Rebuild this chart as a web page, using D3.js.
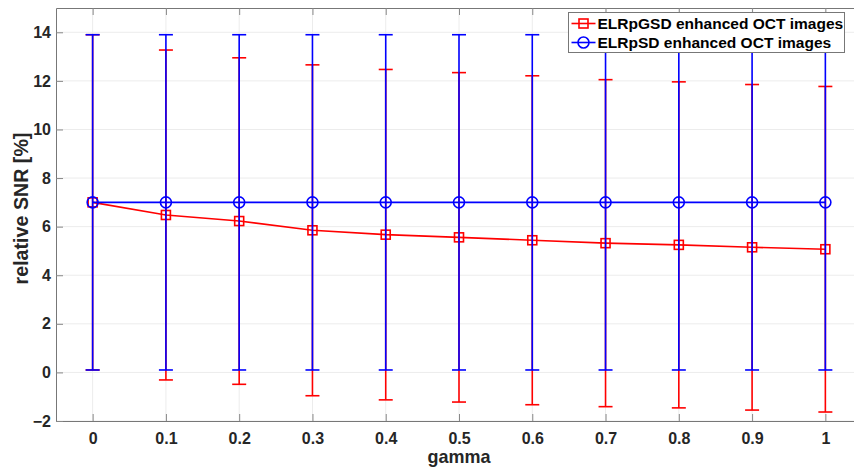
<!DOCTYPE html>
<html>
<head>
<meta charset="utf-8">
<script src="https://cdn.jsdelivr.net/npm/d3@7"></script>
<style>
  body { margin: 0; background: #fff; }
  svg { display: block; font-family: "Liberation Sans", Arial, sans-serif; }
  .tick text { font-size: 16px; font-weight: bold; fill: #262626; }
  .axisLabel { font-size: 17.5px; font-weight: bold; fill: #262626; }
  .legendText { font-size: 15.5px; font-weight: bold; fill: #000; }
</style>
</head>
<body>
<div id="chart"></div>
<script>

// DATA

const gamma = [0, 0.1, 0.2, 0.3, 0.4, 0.5, 0.6, 0.7, 0.8, 0.9, 1];

const gsdMean = [7.0, 6.48, 6.23, 5.85, 5.67, 5.56, 5.44, 5.32, 5.25, 5.15, 5.07];
const gsdErr  = [6.9, 6.79, 6.72, 6.81, 6.80, 6.78, 6.77, 6.73, 6.71, 6.70, 6.70];

const sdMean = [7, 7, 7, 7, 7, 7, 7, 7, 7, 7, 7];
const sdErr  = [6.9, 6.9, 6.9, 6.9, 6.9, 6.9, 6.9, 6.9, 6.9, 6.9, 6.9];

const xTicks = [0, 0.1, 0.2, 0.3, 0.4, 0.5, 0.6, 0.7, 0.8, 0.9, 1];
const yTicks = [-2, 0, 2, 4, 6, 8, 10, 12, 14];

const seriesNames = ["ELRpGSD enhanced OCT images", "ELRpSD enhanced OCT images"];

// MAKE SVG CANVAS

const width = 854;
const height = 474;
const margin = {top: 8, left: 56, right: -8, bottom: 53};
const svg = d3.select("#chart")
    .append("svg")
    .attr("width", width)
    .attr("height", height);

// scale a text's font so it spans the width seen in the reference
function fitWidth(sel, target) {
    const node = sel.node();
    const fs = parseFloat(getComputedStyle(node).fontSize);
    const len = node.getComputedTextLength();
    if (len > 0) sel.style("font-size", (fs * target / len) + "px");
}

// SCALES

const xScale = d3.scaleLinear()
    .domain([-0.05, 1.05])
    .range([margin.left, width - margin.right]);

const yScale = d3.scaleLinear()
    .domain([-2, 15])
    .range([height - margin.bottom, margin.top]);

const plotLeft = margin.left, plotRight = width - margin.right;
const plotTop = margin.top, plotBottom = height - margin.bottom;

// GRID

svg.append("g")
    .selectAll("line")
    .data(xTicks)
    .enter()
    .append("line")
        .attr("x1", d => xScale(d))
        .attr("x2", d => xScale(d))
        .attr("y1", plotTop)
        .attr("y2", plotBottom)
        .attr("stroke", "#ececec")
        .attr("stroke-width", 1);

svg.append("g")
    .selectAll("line")
    .data(yTicks)
    .enter()
    .append("line")
        .attr("x1", plotLeft)
        .attr("x2", plotRight)
        .attr("y1", d => yScale(d))
        .attr("y2", d => yScale(d))
        .attr("stroke", "#ececec")
        .attr("stroke-width", 1);

// AXIS

const xAxis = svg.append("g")
    .attr("class", "axis")
    .attr("transform", `translate(0, ${plotBottom})`)
    .call(d3.axisBottom(xScale).tickValues(xTicks).tickSizeInner(-7).tickSizeOuter(0).tickPadding(12)
        .tickFormat(d3.format("")));

const xAxisTop = svg.append("g")
    .attr("transform", `translate(0, ${plotTop})`)
    .call(d3.axisTop(xScale).tickValues(xTicks).tickSizeInner(-7).tickSizeOuter(0).tickFormat(""));

const yAxis = svg.append("g")
    .attr("class", "axis")
    .attr("transform", `translate(${plotLeft}, 0)`)
    .call(d3.axisLeft(yScale).tickValues(yTicks).tickSizeInner(-7).tickSizeOuter(0).tickPadding(5));

svg.selectAll(".domain").attr("stroke", "#777").attr("stroke-width", 1);
svg.selectAll(".tick line").attr("stroke", "#888").attr("stroke-width", 1);

const xAxisLabel = svg.append("text")
    .attr("class", "axisLabel")
    .attr("x", (plotLeft + plotRight) / 2)
    .attr("y", 463)
    .attr("text-anchor", "middle")
    .text("gamma");
fitWidth(xAxisLabel, 63);

const yAxisLabel = svg.append("text")
    .attr("class", "axisLabel")
    .attr("transform", "rotate(-90)")
    .attr("x", -208.5)
    .attr("y", 28)
    .attr("text-anchor", "middle")
    .text("relative SNR [%]");
fitWidth(yAxisLabel, 152);

// DATA

function drawSeries(mean, err, color, marker) {
    const rows = gamma.map((g, i) => ({g: g, m: mean[i], e: err[i]}));
    const g = svg.append("g");
    const capW = 7;

    g.selectAll(".bar")
        .data(rows)
        .enter()
        .append("line")
            .attr("x1", d => xScale(d.g))
            .attr("x2", d => xScale(d.g))
            .attr("y1", d => yScale(d.m - d.e))
            .attr("y2", d => yScale(d.m + d.e))
            .attr("stroke", color)
            .attr("stroke-width", 1.6);

    [-1, 1].forEach(function(s) {
        g.selectAll(".cap" + s)
            .data(rows)
            .enter()
            .append("line")
                .attr("x1", d => xScale(d.g) - capW)
                .attr("x2", d => xScale(d.g) + capW)
                .attr("y1", d => yScale(d.m + s * d.e))
                .attr("y2", d => yScale(d.m + s * d.e))
                .attr("stroke", color)
                .attr("stroke-width", 1.6);
    });

    g.append("path")
        .datum(rows)
        .attr("d", d3.line().x(d => xScale(d.g)).y(d => yScale(d.m)))
        .attr("fill", "none")
        .attr("stroke", color)
        .attr("stroke-width", 1.6);

    if (marker == "square") {
        g.selectAll("rect")
            .data(rows)
            .enter()
            .append("rect")
                .attr("x", d => xScale(d.g) - 4.5)
                .attr("y", d => yScale(d.m) - 4.5)
                .attr("width", 9)
                .attr("height", 9)
                .attr("fill", "none")
                .attr("stroke", color)
                .attr("stroke-width", 1.6);
    } else {
        g.selectAll("circle")
            .data(rows)
            .enter()
            .append("circle")
                .attr("cx", d => xScale(d.g))
                .attr("cy", d => yScale(d.m))
                .attr("r", 5.5)
                .attr("fill", "none")
                .attr("stroke", color)
                .attr("stroke-width", 1.6);
    }
}

drawSeries(gsdMean, gsdErr, "#ff0000", "square");
drawSeries(sdMean, sdErr, "#0000ff", "circle");

// LEGEND

const legend = svg.append("g").attr("transform", "translate(568.5, 12.5)");

legend.append("rect")
    .attr("width", 276)
    .attr("height", 40)
    .attr("fill", "#fff")
    .attr("stroke", "#777")
    .attr("stroke-width", 1);

const legendColors = ["#ff0000", "#0000ff"];
let legendFont = null;
seriesNames.forEach(function(name, i) {
    const cy = 11 + i * 19;
    const row = legend.append("g").attr("transform", `translate(0, ${cy})`);
    row.append("line")
        .attr("x1", 3).attr("x2", 27)
        .attr("stroke", legendColors[i]).attr("stroke-width", 1.6);
    if (i == 0) {
        row.append("rect")
            .attr("x", 10.5).attr("y", -4.5).attr("width", 9).attr("height", 9)
            .attr("fill", "none").attr("stroke", legendColors[i]).attr("stroke-width", 1.6);
    } else {
        row.append("circle")
            .attr("cx", 15).attr("r", 5.5)
            .attr("fill", "none").attr("stroke", legendColors[i]).attr("stroke-width", 1.6);
    }
    const t = row.append("text")
        .attr("class", "legendText")
        .attr("x", 29)
        .attr("y", 5.5)
        .text(name);
    if (i == 0) {
        fitWidth(t, 246);
        legendFont = t.style("font-size");
    } else {
        t.style("font-size", legendFont);
    }
});

</script>
</body>
</html>
